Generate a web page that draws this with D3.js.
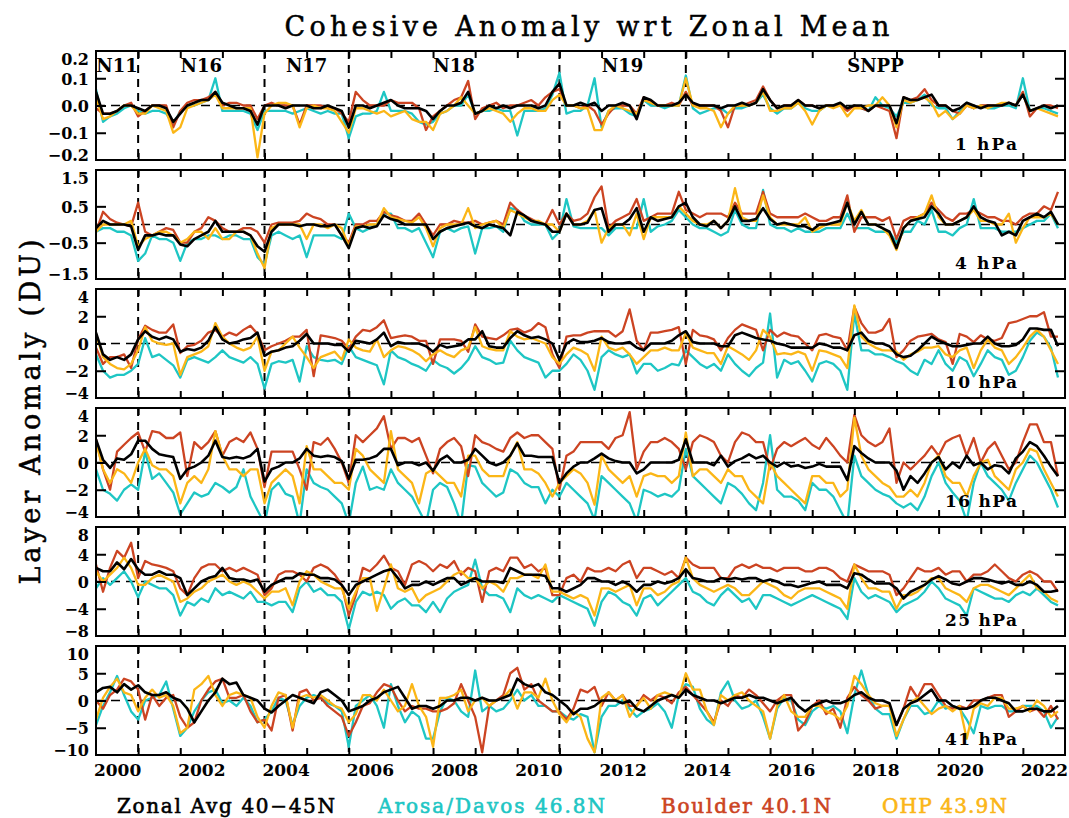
<!DOCTYPE html>
<html>
<head>
<meta charset="utf-8">
<script src="https://cdn.jsdelivr.net/npm/d3@7/dist/d3.min.js"></script>
<style>
  body { margin: 0; background: #fff; }
</style>
</head>
<body>
<div id="chart"></div>
<script>
// bimonthly anomalies (DU), Jan 2000 .. Nov 2022, 6 values per year
const start_year = 2000;
const steps_per_year = 6;

// ---- 1 hPa
const zonal_1 = [
  0.05,-0.03,-0.03,-0.02,0,0, -0.01,-0.02,0,0,-0.01,-0.06, -0.03,0,0.01,0.02,0.02,0.05,
  0.01,0,-0.01,-0.01,-0.02,-0.07, 0,0,0,-0.01,0,0, 0,-0.01,-0.01,0,-0.01,-0.02,
  -0.08,0,0,-0.01,0,0.01, 0.02,0,-0.01,-0.01,-0.01,-0.02, -0.05,-0.02,0,0,0.01,0.05,
  -0.03,-0.02,0,-0.01,0,-0.01, 0,0,0,-0.01,0,0.05, 0.08,0,0,0.01,0,0.01,
  -0.02,0,0,0.01,0,-0.05, 0.03,0.02,0,0,0,0.01, 0.04,0.01,0,0,0,-0.01,
  0,0,0.01,0,0.01,0.06, 0.02,-0.01,0,0,0.02,0, 0,-0.01,0,0,0.01,-0.01,
  0,0,-0.02,0,0,0, -0.065,0.03,0.02,0.02,0.03,0.04, 0,0,-0.02,-0.01,0.01,0,
  -0.01,0,0,0,0.01,0, 0.04,-0.02,-0.01,0,-0.01,0
];
const arosa_1 = [
  0.06,-0.06,-0.04,-0.03,-0.01,0, -0.02,-0.03,-0.02,-0.02,-0.03,-0.07, -0.02,0,0,0.01,0.02,0.1,
  -0.02,-0.02,-0.02,-0.02,-0.03,-0.09, -0.02,-0.02,-0.02,-0.02,-0.03,-0.02, -0.01,-0.02,-0.03,-0.02,-0.03,-0.03,
  -0.12,-0.04,-0.03,-0.03,-0.02,0.05, -0.02,-0.02,-0.02,-0.03,-0.06,-0.07, -0.06,-0.03,-0.02,0,0,0.04,
  -0.03,-0.02,-0.02,-0.01,-0.02,-0.02, -0.11,-0.02,-0.02,-0.02,-0.01,0.04, 0.12,-0.03,-0.02,-0.02,0,0.1,
  -0.08,-0.02,-0.01,-0.01,-0.03,-0.04, 0.02,0,0,-0.01,0,0, 0.11,-0.01,-0.03,-0.02,-0.01,-0.01,
  -0.03,-0.01,-0.01,0,0.01,0.04, -0.01,-0.03,-0.01,-0.01,0.01,-0.01, -0.02,-0.02,0,0,0,-0.01,
  0,-0.01,-0.02,0.03,0,-0.01, -0.04,0.01,0.01,0.02,0.04,0, -0.01,-0.01,-0.05,-0.02,0.01,-0.01,
  0,-0.01,-0.01,0,0,-0.01, 0.1,-0.02,-0.01,-0.01,-0.02,-0.03
];
const boulder_1 = [
  -0.01,-0.03,-0.03,-0.02,0,0.01, -0.04,-0.02,0,0,0,-0.08, -0.02,0.01,0.02,0.02,0.03,0.05,
  0,0.01,0.01,0,0,-0.05, 0,0.01,0,0,0,-0.07, 0,0,0,-0.01,-0.01,-0.03,
  -0.06,0.05,0.02,0,0,0, 0.02,0.01,0.01,0.01,-0.01,-0.09, -0.04,-0.02,0,0.02,0.03,0.09,
  -0.05,-0.01,0,0.01,-0.01,0, 0,0.01,0.02,0,0.03,0.05, 0.06,0,0,-0.01,0,-0.02,
  -0.07,-0.03,0,0,0,-0.03, 0.03,0.01,0,0,0.01,0, 0.05,0,0,0,0,-0.02,
  -0.08,0,0,0.01,0.02,0.07, 0.02,-0.01,0,0,0.02,0, 0,-0.01,0,0,0,-0.02,
  0,-0.01,-0.02,0,-0.01,-0.02, -0.12,0.03,0.02,0.03,0.06,0.02, 0,0,-0.02,-0.03,0,-0.01,
  0,0,0,0,0.01,0, 0.05,-0.04,-0.01,0,0,-0.01
];
const ohp_1 = [
  0.03,-0.05,-0.04,-0.02,0,0, -0.03,-0.03,0,-0.01,-0.02,-0.1, -0.08,-0.01,0,0.01,0.02,0.04,
  -0.01,-0.01,-0.01,-0.01,-0.01,-0.19, -0.03,0,0.01,0.01,0,-0.08, -0.01,0,-0.01,-0.01,-0.02,-0.06,
  -0.1,-0.01,-0.01,-0.02,-0.03,-0.02, -0.04,-0.03,-0.02,-0.05,-0.06,-0.06, -0.09,-0.03,-0.02,0,0.03,0,
  -0.03,-0.02,-0.01,-0.02,-0.03,-0.06, -0.03,-0.01,-0.01,-0.02,-0.02,0.02, 0.04,0,0,-0.01,-0.01,-0.09,
  -0.09,-0.02,0,-0.01,-0.02,-0.03, 0.02,0.01,0,0,0,0, 0.1,0,-0.01,-0.01,-0.02,-0.08,
  -0.03,0,0,0,0.01,0.05, -0.02,-0.02,-0.01,-0.01,0.01,-0.02, -0.07,-0.02,0,-0.01,0,-0.04,
  -0.01,-0.01,0,0,0.03,0, -0.08,0.02,0.01,0.02,0.03,0.01, -0.04,-0.02,-0.05,-0.03,0,-0.01,
  0,-0.01,0,0.01,0.01,0, 0.04,-0.02,-0.01,-0.02,-0.03,-0.04
];

// ---- 4 hPa
const zonal_4 = [
  -0.1,0.1,0,0,0,-0.05, -0.7,-0.3,-0.3,-0.25,-0.3,-0.3, -0.55,-0.6,-0.4,-0.3,-0.2,0.1,
  -0.2,-0.2,-0.2,-0.2,-0.3,-0.6, -0.75,-0.2,0,0,0,-0.05, 0,0,-0.05,-0.05,0,-0.3,
  -0.65,-0.1,-0.05,-0.1,-0.05,0.25, 0.15,0.1,0,0,0,0, -0.4,-0.2,-0.1,-0.05,0,0.05,
  -0.05,-0.1,0,-0.05,-0.1,-0.3, 0.35,0.25,0.1,0.05,0,-0.2, -0.2,0.3,0,0,0.05,0.4,
  0.45,-0.2,0,0,0.15,0.45, -0.2,0.2,0.1,0.15,0.2,0.5, 0.6,0.2,0,-0.05,0.1,-0.1,
  0.1,0.5,0.1,0.1,0.15,0.45, 0.15,0,0.05,0,-0.05,-0.05, -0.15,0,0,0.05,0.1,0.6,
  0,0.35,0,0,-0.1,-0.2, -0.65,-0.1,0.1,0.15,0.2,0.5, 0.3,0,0,0.1,0.2,0.5,
  0.2,0.1,0.05,-0.3,-0.2,-0.3, 0.1,0.2,0.3,0.2,0.35,0
];
const arosa_4 = [
  -0.2,-0.1,-0.1,-0.2,-0.2,-0.3, -1.0,-0.8,-0.3,-0.4,-0.4,-0.5, -1.0,-0.5,-0.4,-0.4,-0.3,-0.3,
  -0.4,-0.3,-0.3,-0.4,-0.4,-0.9, -1.1,-0.3,-0.2,-0.3,-0.4,-0.3, -0.9,-0.3,-0.3,-0.3,-0.3,-0.4,
  0.3,-0.1,-0.2,-0.1,0,0.3, 0.3,-0.1,-0.1,-0.2,-0.1,-0.5, -0.9,-0.2,-0.1,-0.2,-0.1,-0.05,
  -0.8,-0.1,-0.1,-0.05,-0.2,0.45, 0.4,0.1,0,0,0,-0.4, -0.2,0.7,-0.05,-0.1,-0.1,-0.1,
  -0.1,-0.3,-0.1,-0.1,-0.1,-0.1, 0.7,-0.2,-0.05,0,0.1,0.4, 0.2,0,-0.1,-0.1,-0.2,-0.3,
  -0.2,0.4,0,-0.1,-0.1,0.95, 0,-0.1,-0.1,-0.2,-0.1,-0.2, -0.2,-0.2,-0.1,-0.1,-0.1,0.3,
  -0.1,-0.1,-0.1,-0.2,-0.2,-0.2, -0.5,-0.2,-0.2,0.1,0,0.4, -0.2,-0.2,-0.3,-0.1,0,0.7,
  -0.1,-0.1,-0.1,-0.2,-0.2,-0.2, -0.1,0,0.1,0.1,0.3,-0.1
];
const boulder_4 = [
  -0.2,0.35,0.15,0.05,0,-0.05, 0.6,-0.2,-0.3,-0.2,-0.1,-0.15, -0.5,-0.5,-0.2,-0.1,0.2,0.1,
  -0.1,-0.2,-0.2,-0.1,-0.1,-0.2, -0.5,0,0.05,0.05,0.05,0.1, 0.3,0.2,0.15,0,0,-0.3,
  -0.5,0,0,0.1,0.1,0.35, 0.25,0.2,0.1,0.1,0.3,0, -0.3,0,0,0.1,0.05,0.05,
  0.1,0,0.05,0.1,0,0.6, 0.4,0.25,0.15,0.05,0,0.4, 0,0.3,0.1,0.15,0.3,0.75,
  1.05,-0.1,0.1,0.2,0.3,0.7, 0.1,0.2,0.3,0.3,0.3,0.9, 0.4,0.3,0.2,0.3,0.3,0.3,
  0.2,0.6,0.3,0.3,0.3,0.9, 0.3,0.2,0.2,0.2,0.2,0.3, 0.2,0.1,0.1,0.2,0.2,0.8,
  -0.2,0.2,0.2,0.2,0.1,0.2, -0.4,0.1,0.2,0.2,0.3,0.6, 0.4,0.2,0.1,0.3,0.3,0.4,
  0.3,0.2,0.2,0.1,0.1,0, 0.2,0.3,0.3,0.5,0.4,0.9
];
const ohp_4 = [
  -0.2,0,0,0,0,0.1, -0.6,-0.4,-0.3,-0.2,-0.2,-0.3, -0.5,-0.4,-0.2,-0.2,-0.4,-0.1,
  -0.4,-0.4,-0.2,-0.2,-0.3,-0.8, -1.2,-0.1,0,0,0,0, -0.4,0,0,-0.1,0,-0.1,
  -0.6,-0.05,-0.05,0,0,0.45, 0.2,0.15,0.1,0.05,0.2,-0.1, -0.6,-0.1,0,0,0,0.45,
  -0.1,0,0.05,0.1,-0.1,0.4, 0.3,0.2,0.1,0.1,0,0, -0.2,0.3,0,0,0.1,0.4,
  -0.5,-0.1,0,0,-0.3,0.3, -0.4,0.2,0.2,0.2,0.2,0.5, 0.3,0.1,0,0,0.1,-0.1,
  0.1,1.0,0.2,0.1,0.1,0.8, 0.2,0,0,0,0,0.2, -0.2,-0.1,0,0,0,0.6,
  0.1,0.4,0,0,-0.1,-0.3, -0.7,-0.1,0.1,0.2,0.3,0.8, 0.2,0,0,0.1,0.2,0.4,
  0.1,0.1,0,0,0.3,-0.5, -0.1,0.2,0.2,0.2,0.3,0
];

// ---- 10 hPa
const zonal_10 = [
  0.8,-0.8,-1.2,-1.0,-1.2,-0.8, 0.3,0.9,0.5,0.3,0.5,0.3, -0.6,-0.4,-0.5,-0.3,0.2,1.2,
  0.3,0,0.1,0.3,0.4,0.8, -0.9,-0.6,-0.5,-0.3,-0.2,0.2, 0.7,0,0,0,-0.1,-0.1,
  -0.6,0.2,0.1,0,0.3,0.8, -0.2,0.1,0,0,0,-0.2, -0.6,-0.1,-0.3,-0.2,-0.1,0.3,
  0.3,0.9,-0.2,-0.3,-0.3,0.4, 0.9,0.6,0.4,0.5,0.3,0, -1.2,0,0.3,0.1,0.1,0.2,
  0.4,0.1,0,0,0.1,-0.3, -0.5,0,0,0,0.2,0.6, 0.9,0.1,0,0,0,-0.2,
  -0.2,0.6,0.8,0.6,0.4,0.3, 0.2,0,-0.1,-0.3,-0.3,-0.3, -0.3,0,-0.1,-0.3,-0.3,-0.5,
  0.6,0.8,0.2,0,0,-0.2, -0.8,-1.0,-0.9,-0.5,0,0.5, 0.2,0,-0.2,-0.2,-0.1,0,
  0,0.5,0,-0.2,-0.2,-0.1, 0.3,1.1,1.1,1.0,1.0,-0.2
];
const arosa_10 = [
  -0.8,-2.0,-2.5,-2.3,-2.3,-2.0, -1.5,0.4,-1.0,-0.8,-1.2,-1.6, -2.5,-1.2,-1.0,-1.2,-1.4,-1.0,
  -0.5,-1.0,-1.2,-1.4,-1.0,-1.5, -3.3,-1.5,-1.3,-1.4,-1.2,-2.8, -0.2,-1.0,-1.2,-1.3,-1.2,-1.5,
  -0.2,-1.0,-1.2,-1.4,-1.6,-3.0, -0.5,-1.0,-1.2,-1.5,-1.7,-2.0, -1.2,-1.6,-1.8,-2.2,-1.8,-1.2,
  -0.2,-1.0,-1.2,-1.5,-1.4,0.2, -0.5,-1.0,-1.2,-1.4,-2.5,-2.0, -2.0,-1.5,-0.8,-1.2,-2.0,-3.4,
  -1.0,-0.5,-0.8,-1.0,-0.8,-2.2, -1.5,-1.5,-2.0,-1.8,-1.5,-1.6, -0.5,-1.0,-1.5,-1.8,-1.5,-2.0,
  -0.8,-1.5,-2.0,-2.4,-1.8,-1.4, 2.2,-2.5,-1.2,-1.5,-1.3,-2.0, -2.8,-1.5,-1.3,-1.5,-2.0,-3.4,
  2.2,-0.5,-0.5,-0.8,-0.8,-1.0, -1.3,-1.5,-2.0,-2.3,-1.2,-1.5, -0.5,-1.5,-2.0,-1.0,-1.3,-2.4,
  -1.5,-0.5,-1.0,-1.2,-2.3,-2.0, -1.0,0.2,0.8,0.5,-0.3,-2.5
];
const boulder_10 = [
  -0.3,-1.5,-1.0,-1.0,-0.8,-1.8, 0.3,1.3,1.0,0.8,0.8,1.4, -0.7,-0.2,-0.1,0.2,0.8,1.0,
  0.5,0.8,0.6,1.0,1.3,0.7, -0.5,-0.2,0,0.2,0.5,0.5, 1.0,-2.4,0.6,0.5,0.4,0.2,
  -0.4,0.5,1.0,0.9,1.2,1.7, 0.4,0.5,0.6,0.5,0.2,0.2, -1.5,0.3,0.3,0.3,0.2,-0.6,
  1.4,0.5,0.4,0.3,0.6,1.0, 1.1,0.8,1.0,1.5,1.2,-0.8, -1.8,0.5,0.6,0.6,0.8,0.9,
  0.9,0.9,0.5,0.9,2.5,0.2, -0.5,0.8,0.8,0.9,1.0,1.2, -1.5,1.0,0.6,0.5,0.3,-0.5,
  0.4,1.0,1.4,1.2,1.0,-0.5, 1.0,0.5,0.8,0.6,0.5,0, -0.5,0.6,0.7,0.5,0.4,-0.5,
  2.7,1.5,0.8,0.8,1.0,1.8, -1.0,-0.5,0.2,0.5,0.6,0.7, 0.3,0.1,-1.5,0.7,0.5,0.1,
  0.6,0.3,0.2,0.4,1.5,1.6, 1.8,2.0,2.0,2.3,0.5,0.5
];
const ohp_10 = [
  0.7,-1.0,-1.5,-1.8,-1.9,-1.5, -0.5,1.2,0.2,0,-0.1,0, -2.3,-1.0,-0.8,-0.6,-0.2,1.5,
  0.5,0,-0.3,-0.5,-0.3,0.5, -2.0,-0.6,-0.5,0,0.5,-0.3, -1.0,-1.8,-1.0,-0.8,-0.6,-1.2,
  0.3,-0.3,-0.5,-0.6,0.3,-1.0, -0.5,-0.2,-0.3,-0.5,-0.8,-1.3, -0.8,-0.5,-0.8,-1.0,-0.5,-0.3,
  1.2,-0.2,-0.4,-0.5,-0.5,0.9, 0.5,0.3,0.4,0.2,0,-1.0, -1.5,-0.8,-0.3,-0.5,-0.8,-2.0,
  0.5,-0.3,-0.5,-0.3,-0.8,-1.5, -1.0,-0.5,-0.5,-0.3,-0.5,-0.5, 0.8,-0.3,-0.5,-0.7,-0.7,-1.5,
  -0.2,-0.5,-0.8,-1.2,-0.5,1.0, 0.5,-0.8,-0.7,-0.8,-0.6,-0.8, -2.0,-0.5,-0.6,-0.8,-1.0,-1.8,
  2.8,0.5,0,-0.3,-0.5,-0.5, -0.6,-1.2,-0.8,-0.6,-0.3,-0.3, -0.2,-0.8,-1.0,-0.5,-0.3,-1.8,
  -0.5,0.3,-0.3,-0.5,-1.5,-1.0, -0.3,0.5,1.0,0.5,-0.5,-1.5
];

// ---- 16 hPa
const zonal_16 = [
  1.7,0.2,-0.4,0.3,0.2,0.6, 1.6,1.6,1.0,0.6,0.5,0.4, -1.2,-0.5,-0.3,0,0.5,1.6,
  0.4,0.3,0.4,0.3,0.5,1.0, -1.4,-0.5,-0.3,0,0,0.3, 1.0,0.5,0.4,0.5,0.4,0.1,
  -1.2,0.2,0.2,0.3,0.5,1.0, 1.0,-0.2,0,0,-0.2,0, -0.6,0.2,0.5,0,0,0.2,
  1.0,0.5,0,-0.2,0,0.5, 1.4,0.5,0.5,0.4,0.4,0.4, -1.5,-0.8,-0.3,0,0,0.3,
  0.65,0.3,0.1,0,0,-0.8, -0.5,0,0,0,0,0.2, 1.7,0,0,0,-0.2,0.5,
  -0.3,0.1,0.3,0.6,0.3,0.5, 0,-0.3,0,-0.3,-0.2,-0.4, -0.3,-0.1,-0.3,-0.3,-0.3,-1.3,
  1.2,0.7,0.3,0,0,0, -0.6,-2.0,-1.0,-1.5,-0.8,0, 0.4,-0.5,0,-0.4,0.5,-0.2,
  0,-0.5,-0.2,-0.3,-0.8,0.3, 0.8,1.5,1.2,0.5,-0.3,-1.0
];
const arosa_16 = [
  -0.5,-2.0,-2.3,-2.8,-2.0,-1.6, -2.0,0.8,-1.2,-0.8,-1.5,-2.2, -3.8,-3.0,-2.2,-2.5,-2.3,-1.5,
  -1.8,-2.2,-1.8,-0.5,-2.5,-3.5, -4.5,-2.0,-1.5,-2.3,-2.5,-4.5, -0.5,-1.5,-1.8,-2.0,-2.5,-3.0,
  -4.5,-1.5,-0.3,-2.0,-1.8,-2.0, -0.5,-1.5,-2.0,-2.5,-3.5,-4.5, -2.0,-1.5,-1.8,-3.0,-4.5,-0.2,
  -0.3,-1.5,-2.0,-2.5,-2.2,-0.5, -0.8,-1.5,-1.8,-1.8,-3.0,-2.0, -2.5,-1.5,-2.0,-2.5,-3.0,-4.2,
  -1.0,-1.5,-2.0,-2.5,-3.0,-4.3, -2.0,-2.2,-2.5,-2.3,-2.5,-2.0, 1.0,-1.0,-1.5,-2.0,-2.5,-3.0,
  -1.5,-1.8,-2.3,-3.0,-3.5,-1.5, 2.0,-2.0,-2.5,-2.5,-2.8,-3.5, -1.5,-2.0,-2.0,-2.5,-3.5,-4.5,
  0.5,-1.0,-1.5,-2.0,-2.3,-2.5, -3.0,-3.3,-3.0,-3.5,-2.5,-1.0, 0,-1.5,-2.2,-2.8,-4.3,-1.5,
  0,-1.0,-1.5,-2.0,-2.8,-1.5, -0.5,0.5,0,-1.0,-2.0,-3.3
];
const boulder_16 = [
  1.7,-0.5,-2.0,0.8,1.3,1.8, 2.2,0.8,2.3,2.2,1.8,1.8, 2.2,-1.0,1.5,1.0,1.5,2.3,
  0.5,1.5,1.8,1.5,2.2,1.0, -1.8,0.8,0.8,0.8,0.8,-0.5, -2.0,1.5,1.3,1.8,1.0,0,
  -1.5,2.0,1.5,2.0,2.5,3.4, 1.0,1.8,1.8,1.5,1.8,0.5, -0.8,1.0,1.5,1.8,1.2,-1.0,
  2.0,1.5,1.3,1.0,0.8,1.8, 2.2,1.8,2.0,2.0,1.5,1.0, -2.0,0.5,0.8,1.5,1.5,1.5,
  1.5,1.0,1.8,2.0,3.7,-0.5, 0.8,1.5,1.5,1.8,1.5,1.0, -0.5,1.5,2.0,1.8,1.5,0.5,
  0,1.5,2.2,2.0,1.5,1.5, -0.5,1.0,1.5,1.2,1.5,1.8, 1.3,1.0,1.8,1.2,0.5,0,
  3.5,2.0,1.5,1.2,1.5,2.5, -1.5,0,-0.5,0,0.5,1.2, 0.5,1.5,1.8,2.0,0.5,1.8,
  0,1.0,1.5,0.5,-0.5,0, 1.5,2.8,2.8,1.5,1.5,-1.0
];
const ohp_16 = [
  1.5,-0.5,-1.5,-0.5,-0.8,-1.5, 0,1.0,-0.2,-0.5,-0.5,-1.0, -3.0,-1.5,-1.0,-1.5,-0.5,2.3,
  0.5,-0.5,-0.5,-1.0,-0.5,-0.5, -3.0,-1.5,-1.0,-0.5,-1.0,-3.0, 1.2,-0.5,-0.5,-1.0,-1.5,-1.5,
  -2.0,1.0,0.5,-0.5,-1.0,-1.5, 2.3,-0.5,-1.0,-1.5,-3.0,-0.8, -0.5,-1.0,-1.5,-1.5,-2.5,0.5,
  0.5,-0.5,-1.0,-1.0,-1.0,0.5, 1.5,-0.5,-0.5,-0.8,-1.5,-2.5, -1.5,-1.0,-0.5,-0.8,-1.5,-3.1,
  0.5,-0.5,-1.0,-1.5,-1.0,-2.5, -1.0,-0.8,-1.0,-1.0,-1.5,-1.0, 2.2,-1.0,-0.5,-0.5,-1.0,-1.5,
  -0.5,-1.0,-1.0,-2.0,-2.5,-3.0, 0,-1.0,-1.5,-2.0,-2.5,-3.0, -1.0,-1.0,-1.5,-1.5,-2.5,-2.0,
  3.3,0.5,-0.5,-1.0,-1.5,-1.8, -2.5,-2.5,-2.0,-2.5,-1.5,0, 0.5,-1.0,-1.5,-1.5,-2.5,-1.0,
  0,0.2,-1.0,-1.5,-2.0,-0.5, 0,1.0,0.8,-0.5,-1.5,-2.5
];

// ---- 25 hPa
const zonal_25 = [
  2.0,1.5,1.5,2.8,1.8,3.3, 1.8,1.0,1.0,1.5,1.0,1.0, 0.5,-2.0,-1.0,0,0.5,0.8,
  2.0,0.5,0.3,0.3,0,0.3, -1.5,-0.5,0,0.5,0.5,1.2, 1.0,1.0,0.5,0.5,0.3,-0.5,
  -2.0,-0.5,0,0.5,1.0,1.5, 1.8,0.5,-1.0,-0.5,-0.5,0, -0.5,0,0.5,0.5,-0.5,0,
  0.5,0,0,0,-0.2,2.0, 1.5,1.0,1.0,1.0,0.8,-1.0, -1.0,-1.5,-1.0,-0.5,0.5,0.5,
  0,0,-0.5,0,-0.5,-1.5, -0.5,-0.5,0,-0.3,0,0.5, 1.8,0.5,0.3,0,0,0.5,
  0.3,0.5,0.3,0.5,0.5,0, 0.3,0,-0.5,-0.5,-0.8,-0.5, -0.2,0,-0.5,-0.5,-0.5,-1.0,
  1.2,1.0,0.3,-0.3,-0.3,-0.3, -1.0,-2.5,-1.5,-1.0,-0.5,0.3, 0.8,0.3,-0.3,-0.5,0,0.5,
  0.5,0.3,0,-0.3,0,-0.5, -0.5,0,-0.5,-1.5,-1.5,-1.3
];
const arosa_25 = [
  -1.0,0.5,-0.5,0.5,1.5,0, -2.3,0,-0.5,-1.0,-1.0,-2.0, -5.0,-3.0,-3.5,-2.5,-3.0,-1.0,
  -2.0,-1.5,-2.0,-2.5,-1.5,-3.0, -3.0,-3.5,-3.0,-3.0,-4.5,-1.0, 0,-1.5,-1.0,-2.0,-2.0,-3.0,
  -7.0,-3.0,-1.5,-2.0,-1.5,-2.0, -4.0,-3.0,-2.5,-3.5,-3.5,-4.5, -3.0,-4.5,-2.5,-1.5,-1.0,-0.5,
  3.2,-1.0,-2.0,-2.0,-2.5,-4.5, -1.0,-2.0,-2.5,-2.0,-2.5,-3.0, -2.0,-2.5,-3.0,-3.5,-4.0,-6.5,
  -3.0,-1.5,-2.0,-3.0,-3.5,-5.0, -2.5,-2.0,-3.5,-2.5,-1.5,-0.5, 0.5,-1.5,-2.0,-3.0,-3.5,-2.0,
  -1.0,-2.0,-3.0,-2.5,-4.0,-2.0, -2.0,-2.5,-3.0,-3.5,-3.0,-2.5, -2.0,-2.5,-3.0,-3.5,-4.0,-5.5,
  0.5,-1.5,-2.5,-2.0,-2.5,-3.0, -4.5,-3.5,-3.0,-2.5,-1.5,0, -1.0,-2.5,-3.0,-3.5,-5.0,-1.0,
  -1.5,-2.0,-2.5,-2.5,-3.0,-2.0, -1.5,-2.0,-1.0,-2.0,-3.0,-3.5
];
const boulder_25 = [
  2.5,-1.5,2.0,4.5,3.5,5.7, 0.5,3.0,2.5,2.3,2.0,1.5, -1.0,-2.0,0.5,2.0,2.5,2.5,
  1.5,2.0,1.5,2.0,1.5,1.0, -2.0,-1.0,1.0,1.5,1.5,1.0, 0,2.0,2.5,2.0,1.0,-0.5,
  -5.0,-2.0,2.0,1.5,2.5,3.8, 2.0,1.5,-0.5,2.5,3.0,2.5, 1.5,2.5,2.0,3.0,1.0,2.0,
  1.5,-3.0,1.5,2.0,1.5,3.5, 3.5,2.0,2.5,1.5,2.0,-2.0, -2.0,0.5,1.0,0,2.0,1.5,
  1.5,2.0,1.5,2.5,3.0,0.5, 2.0,2.0,1.5,1.0,1.5,0.5, 3.5,2.5,2.0,2.0,2.0,0.5,
  0.5,2.0,2.5,2.0,2.5,2.0, 2.0,1.5,2.0,2.0,2.0,1.5, 1.5,2.0,2.0,1.5,0.5,0,
  2.5,2.0,1.5,1.5,1.5,1.0, -2.0,-1.0,0.5,2.0,1.5,1.5, 2.0,1.0,1.5,1.5,0,1.0,
  1.0,1.5,2.5,1.5,0.5,0, 1.0,1.5,1.0,0,0,-1.5
];
const ohp_25 = [
  1.5,0,1.0,2.0,3.5,2.0, -0.5,-0.5,0.5,1.0,0.5,0, -3.0,-2.5,-1.5,-1.0,0,0.5,
  1.0,0,-0.5,0,-0.5,-1.5, -2.5,-1.5,-1.5,-1.0,-3.5,0, 1.5,1.0,0,-0.5,-1.0,-1.0,
  -4.0,-1.5,0.5,0.5,-4.3,-1.0, 2.5,-1.0,-1.5,-1.0,-3.0,-2.0, -1.5,-1.0,0,1.0,1.5,0.5,
  0.5,-1.0,0,-0.5,-1.5,0.5, 0.5,1.0,1.0,0.5,2.5,-1.5, -1.5,-2.0,-2.5,-2.0,-2.5,-5.0,
  -1.0,-1.0,-1.5,-1.0,-0.5,-3.5, -1.0,-1.0,-2.0,-1.5,-0.5,0, 3.5,0.5,-0.5,-1.0,-1.5,-1.0,
  -0.5,-1.0,-2.0,-2.0,-1.0,0, -0.5,-1.0,-2.0,-2.5,-1.5,-1.0, -1.0,-1.0,-1.5,-2.0,-2.5,-4.0,
  2.5,0.5,-1.0,-1.0,-1.5,-1.5, -4.0,-2.0,-2.0,-1.5,-0.5,0.5, 0.5,-1.0,-1.5,-2.0,-3.0,-1.0,
  -0.5,-0.5,-1.0,-1.5,-2.0,-1.0, 0,1.0,-1.0,-1.5,-2.5,-3.0
];

// ---- 41 hPa
const zonal_41 = [
  1.5,2.3,2.5,1.5,3.0,2.0, 2.8,1.5,1.0,1.0,1.5,0.5, 0,-1.5,-4.0,-2.0,0,1.5,
  4.0,3.0,3.3,1.0,0.5,0, -1.5,-2.2,-1.0,0,1.0,0.5, 0,-0.5,1.5,2.0,1.0,0,
  -2.0,-1.5,-1.0,0,0.5,1.5, 2.0,2.5,0.5,-1.5,-1.0,-1.0, -1.5,-1.0,0,0,0.5,0.5,
  0,0.5,0,0,0.5,1.0, 4.0,3.0,2.5,3.0,1.5,1.0, 0,-1.0,-2.5,-1.5,-1.5,-1.0,
  0,0,0,-0.5,0,-1.5, -2.0,-1.0,0,0.5,1.0,0.5, 2.0,1.0,0.5,0,0,-0.5,
  0,0.5,0.5,1.0,0.5,0.5, 0,-0.5,0,0.5,-1.0,-2.0, -1.0,-0.5,0,-0.5,-0.5,0,
  1.0,1.5,0.5,0,0,-0.5, -4.5,-1.5,-0.5,0,1.0,2.0, 0,0,-1.0,-1.5,-1.5,-1.0,
  0,0.5,0.5,0,-0.5,-2.0, -2.0,-1.5,-1.5,-2.0,-2.0,-1.0
];
const arosa_41 = [
  -4.5,-1.0,1.5,4.5,1.0,-2.0, -3.5,0,0.5,1.0,3.5,-1.5, -6.5,-5.0,-2.0,0,1.5,2.0,
  -0.5,0,-1.0,0.5,-1.0,-4.0, -3.5,-2.0,0.5,0,-4.5,-1.0, 0.5,1.0,0.5,-0.5,-1.0,-2.0,
  -8.5,-1.0,0,1.0,-1.0,-5.0, 3.0,-1.0,-4.0,-2.0,-3.0,-7.0, -7.0,-2.0,0.5,0,-2.0,-3.0,
  5.5,-2.0,-1.0,-2.0,-1.5,0, 2.0,0,1.0,-1.0,-1.0,-2.0, -2.0,-3.0,-3.5,-2.5,-3.0,-9.5,
  -3.0,-1.0,-1.0,0,-1.5,-3.0, -2.0,-1.5,-0.5,-2.0,-5.0,1.0, 3.0,2.5,-1.5,-3.5,-4.5,1.5,
  3.5,0,-1.5,-1.0,0,-3.0, -7.0,-1.5,0.5,0,-3.5,-4.5, -2.0,-1.0,-1.5,-1.0,-2.0,-6.0,
  1.0,5.5,1.0,-1.5,-2.5,-2.5, -7.0,-3.5,-1.0,-1.0,-2.5,-2.0, 0,-1.5,-1.0,-1.5,-3.5,-6.0,
  -1.0,-1.5,-1.0,-1.0,-2.0,-2.0, -1.0,-1.0,-1.0,-2.0,-5.0,-3.0
];
const boulder_41 = [
  0,-1.5,1.0,2.0,4.0,3.5, 2.0,-3.5,1.0,-1.0,0.5,1.0, -3.0,-5.0,-4.0,0,2.0,3.5,
  4.0,0.5,0.5,1.0,-2.0,-4.0, -3.5,-5.5,0.5,1.0,-5.5,1.5, 2.0,0,0.5,-1.0,-2.0,-3.0,
  -6.5,-4.0,-1.0,-0.5,1.5,3.0, 2.5,0,-2.0,-1.0,-1.5,-1.5, -2.0,-2.0,-1.5,-0.5,3.0,0,
  -3.0,-9.5,-1.0,0,1.0,5.0, 6.0,2.0,3.0,0,-1.0,-2.0, -2.0,-3.5,-1.5,2.0,1.5,2.5,
  -1.0,1.5,0,1.0,-1.0,-1.0, 1.0,0,1.0,0.5,-0.5,1.5, 2.5,1.0,-0.5,-2.0,-4.0,0,
  -1.0,1.0,0.5,2.0,1.0,-0.5, -2.0,0,1.0,1.0,-5.5,-4.0, -1.0,0,-2.5,-1.5,-5.0,0.5,
  2.5,1.0,0,-1.5,-1.0,-1.0, -4.5,-1.5,2.5,0.5,3.0,3.0, 1.0,-1.0,-1.5,-1.0,-1.5,0,
  0,0.5,1.0,1.0,-3.0,-2.0, -1.0,-2.0,-1.5,-3.0,-1.0,-3.5
];
const ohp_41 = [
  -3.5,0.5,2.5,4.0,1.5,1.0, -2.0,0.5,2.0,0.5,1.0,-1.0, -6.0,-5.0,2.0,3.0,4.5,1.0,
  -1.0,1.0,1.5,1.0,0.5,-3.0, -5.0,-1.0,1.5,1.0,-5.0,0.5, 1.0,0.5,1.0,0,-1.0,-1.5,
  -4.0,-2.5,1.0,1.0,0,2.0, 0,-2.0,-1.0,3.0,-1.0,-3.0, -8.5,0.5,0.5,1.0,2.0,-2.0,
  0,0.5,-1.0,0,0.5,2.0, -1.5,1.5,1.5,0.5,4.0,0, -2.5,-4.0,-2.0,-3.0,-7.0,-9.5,
  0.5,1.5,0,1.0,-3.0,-1.0, 0.5,-1.5,1.0,1.5,1.0,0.5, 5.0,2.0,2.0,-2.0,-4.5,1.0,
  0,1.0,1.5,0,-1.0,-2.0, -7.0,-1.0,1.0,-2.0,-3.0,-3.0, -1.0,-1.0,-2.0,-2.5,-3.5,-1.0,
  4.5,3.0,1.0,-0.5,-1.0,-1.0, -6.5,-3.5,-0.5,0.5,-1.0,-2.5, -1.5,-1.0,-2.0,-1.0,-7.0,-1.5,
  -0.5,-1.0,0.5,0.5,-1.5,-1.5, -1.0,-2.0,0,-1.0,-3.0,-2.0
];

const level_labels = ["1 hPa", "4 hPa", "10 hPa", "16 hPa", "25 hPa", "41 hPa"];
const y_limits = [0.2, 1.5, 4, 4, 8, 10];
const y_tick_values = [
  [-0.2, -0.1, 0, 0.1, 0.2],
  [-1.5, -0.5, 0.5, 1.5],
  [-4, -2, 0, 2, 4],
  [-4, -2, 0, 2, 4],
  [-8, -4, 0, 4, 8],
  [-10, -5, 0, 5, 10]
];
const y_tick_formats = [".1f", ".1f", "d", "d", "d", "d"];
const panel_series = [
  [arosa_1, boulder_1, ohp_1, zonal_1],
  [arosa_4, boulder_4, ohp_4, zonal_4],
  [arosa_10, boulder_10, ohp_10, zonal_10],
  [arosa_16, boulder_16, ohp_16, zonal_16],
  [arosa_25, boulder_25, ohp_25, zonal_25],
  [arosa_41, boulder_41, ohp_41, zonal_41]
];
const series_colors = ["#1ec6c4", "#cc4422", "#fbb617", "#000000"];
const series_widths = [2.3, 2.3, 2.3, 2.6];

const transition_years = [2001, 2004, 2006, 2011, 2014];
const satellites = ["N11", "N16", "N17", "N18", "N19", "SNPP"];
const legend_labels = ["Zonal Avg 40\u221245N", "Arosa/Davos 46.8N", "Boulder 40.1N", "OHP 43.9N"];
const legend_colors = ["#000000", "#1ec6c4", "#cc4422", "#fbb617"];

// ---------------------------------------------------------------
const W = 1069, H = 818;
const plot_left = 96, plot_right = 1065;
const panel_top = 51, panel_h = 109, panel_pitch = 119;
const font = "'DejaVu Serif', 'Liberation Serif', serif";

const x = d3.scaleLinear().domain([2000, 2023]).range([plot_left, plot_right]);

const svg = d3.select("#chart").append("svg")
  .attr("width", W).attr("height", H)
  .style("font-family", font);

// title
svg.append("text")
  .attr("x", 587).attr("y", 36)
  .attr("text-anchor", "middle")
  .attr("font-size", 27)
  .attr("stroke", "#000").attr("stroke-width", 0.5)
  .attr("textLength", 605)
  .attr("lengthAdjust", "spacing")
  .text("Cohesive Anomaly wrt Zonal Mean");

// y-axis title
svg.append("text")
  .attr("transform", "translate(40,412) rotate(-90)")
  .attr("text-anchor", "middle")
  .attr("font-size", 27)
  .attr("stroke", "#000").attr("stroke-width", 0.5)
  .attr("textLength", 345)
  .attr("lengthAdjust", "spacing")
  .text("Layer Anomaly (DU)");

const line_gen = d3.line()
  .x((d, i) => x(start_year + i / steps_per_year))
  .y(d => d);

level_labels.forEach((lab, p) => {
  let top = panel_top + p * panel_pitch;
  let bottom = top + panel_h;
  let lim = y_limits[p];
  let y = d3.scaleLinear().domain([-lim, lim]).range([bottom, top]);
  let g = svg.append("g");

  svg.append("clipPath").attr("id", "clip" + p)
    .append("rect")
    .attr("x", plot_left).attr("y", top)
    .attr("width", plot_right - plot_left).attr("height", panel_h);

  // zero line
  g.append("line")
    .attr("x1", plot_left).attr("x2", plot_right)
    .attr("y1", y(0)).attr("y2", y(0))
    .attr("stroke", "#000").attr("stroke-width", 1.6)
    .attr("stroke-dasharray", "9,6");

  // instrument transitions
  g.selectAll(".trans").data(transition_years).enter()
    .append("line")
    .attr("x1", d => x(d)).attr("x2", d => x(d))
    .attr("y1", top).attr("y2", bottom)
    .attr("stroke", "#000").attr("stroke-width", 2)
    .attr("stroke-dasharray", "8,6");

  // series
  let lines = g.append("g").attr("clip-path", "url(#clip" + p + ")");
  panel_series[p].forEach((vals, s) => {
    lines.append("path")
      .datum(vals.map(v => y(v)))
      .attr("d", line_gen)
      .attr("fill", "none")
      .attr("stroke", series_colors[s])
      .attr("stroke-width", series_widths[s])
      .attr("stroke-linejoin", "round");
  });

  // axes (ticks point inward)
  let year_ticks = d3.range(2001, 2023);
  let ax_top = g.append("g").attr("transform", "translate(0," + top + ")")
    .call(d3.axisTop(x).tickValues(year_ticks).tickSize(-7).tickFormat(""));
  let ax_bot = g.append("g").attr("transform", "translate(0," + bottom + ")")
    .call(d3.axisBottom(x).tickValues(year_ticks).tickSize(-7).tickFormat(""));
  let inner = y_tick_values[p].filter(v => Math.abs(v) < lim);
  let ax_right = g.append("g").attr("transform", "translate(" + plot_right + ",0)")
    .call(d3.axisRight(y).tickValues(inner).tickSize(-10).tickFormat(""));
  let ax_left = g.append("g").attr("transform", "translate(" + plot_left + ",0)")
    .call(d3.axisLeft(y).tickValues(y_tick_values[p]).tickSize(-10).tickPadding(7)
      .tickFormat(d3.format(y_tick_formats[p])));

  [ax_top, ax_bot, ax_right, ax_left].forEach(a => {
    a.select(".domain").remove();
    a.selectAll("line").attr("stroke", "#000").attr("stroke-width", 2);
  });
  ax_left.selectAll("text")
    .attr("font-family", font)
    .attr("font-size", 16)
    .attr("font-weight", "bold")
    .attr("fill", "#000")
    .attr("dy", "0.36em")
    .attr("y", d => Math.max(top + 8, Math.min(bottom - 5, y(d))) - y(d));
  ax_left.selectAll(".tick line").filter(d => Math.abs(d) >= lim).remove();

  // frame
  g.append("rect")
    .attr("x", plot_left).attr("y", top)
    .attr("width", plot_right - plot_left).attr("height", panel_h)
    .attr("fill", "none").attr("stroke", "#000").attr("stroke-width", 2);

  // pressure level
  g.append("text")
    .attr("x", 1017).attr("y", bottom - 10)
    .attr("text-anchor", "end")
    .attr("font-size", 17).attr("font-weight", "bold")
    .attr("textLength", 62 + 10 * (lab.length - 5))
    .attr("lengthAdjust", "spacing")
    .text(lab);

  if (p === 0) {
    let edges = [2000].concat(transition_years, [2023]);
    g.selectAll(".sat").data(satellites).enter()
      .append("text")
      .attr("x", (d, i) => x((edges[i] + edges[i + 1]) / 2))
      .attr("y", top + 21)
      .attr("text-anchor", "middle")
      .attr("font-size", 18).attr("font-weight", "bold")
      .text(d => d);
  }

  if (p === level_labels.length - 1) {
    let label_years = d3.range(2000, 2023, 2).map(v => v + 0.5);
    let ax_lab = g.append("g").attr("transform", "translate(0," + bottom + ")")
      .call(d3.axisBottom(x).tickValues(label_years).tickSize(0).tickPadding(9)
        .tickFormat(d => String(Math.floor(d))));
    ax_lab.select(".domain").remove();
    ax_lab.selectAll("text")
      .attr("font-family", font).attr("font-size", 17)
      .attr("font-weight", "bold").attr("fill", "#000");
  }
});

// legend
const legend_x = [117, 378, 661, 882];
const legend_len = [218, 227, 170, 125];
svg.selectAll(".legend").data(legend_labels).enter()
  .append("text")
  .attr("x", (d, i) => legend_x[i])
  .attr("y", 813)
  .attr("font-size", 20)
  .attr("fill", (d, i) => legend_colors[i])
  .attr("stroke", (d, i) => legend_colors[i])
  .attr("stroke-width", 0.6)
  .attr("textLength", (d, i) => legend_len[i])
  .attr("lengthAdjust", "spacing")
  .text(d => d);
</script>
</body>
</html>
